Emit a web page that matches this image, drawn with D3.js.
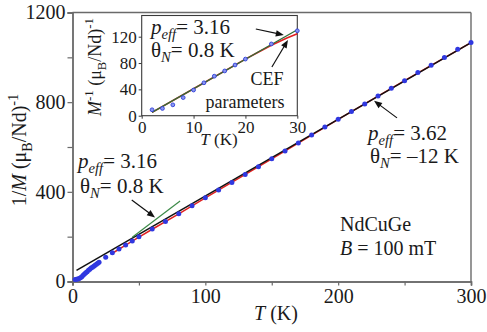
<!DOCTYPE html>
<html><head><meta charset="utf-8">
<script src="https://cdn.jsdelivr.net/npm/d3@7"></script>
<style>
html,body{margin:0;padding:0;background:#fff;}
svg text{font-family:"Liberation Serif","Times New Roman",serif;fill:#1a1a1a;}
</style></head>
<body><svg id="c" width="487" height="332"></svg>
<script>
// ---------- data ----------
const mainT = [2,3,4,5,6,7,8,9,10,11,12,13,14,15,16,17,18,19,20,25,30,35,40,45,50,60,70,80,90,100,110,120,130,140,150,160,170,180,190,200,210,220,230,240,250,260,270,280,290,300];
const mainV = [9,10,11,13,16.5,21,27.5,33,39,44,50,55,60,64,68,72,77,81,86,108,128,145,163,181,200,234,268,302,338,374,408,442,477,512,548,582,618,654,689,724,758,792,828,862,896,932,965,999,1036,1066];
const cefT = [30,40,50,60,80,100,150,200,250,300];
const cefV = [126,162,198,233,302,373,547,723,896,1066];
const fitHighT = [3,300];
const fitHighV = [50,1066];
const fitLowMainT = [45,81];
const fitLowMainV = [197,359];
const insetT = [2,4,6,8,10,12,14,16,18,20,25,30];
const insetV = [9,11,16.5,27.5,39,50,60,68,77,86,109,129];
const insetFitT = [2,30];
const insetFitV = [5,130.5];
const insetCefT = [2,10,20,22,25,28,30];
const insetCefV = [5,41,86,94.5,107,118,124.5];
const xTicksMain = [0,100,200,300];
const xMinorMain = [50,150,250];
const yTicksMain = [0,400,800,1200];
const yMinorMain = [200,600,1000];
const xTicksInset = [0,10,20,30];
const yTicksInset = [0,40,80,120];

// ---------- helpers ----------
const svg = d3.select("#c");
function rich(sel, parts, size, subShift){
  const ss = subShift === undefined ? 0.3 : subShift;
  let shift = 0;
  parts.forEach(p=>{
    const ts = sel.append("tspan").text(p.t);
    let target = 0, fs = size;
    if(p.sub){ target = size*ss; fs = size*0.7; }
    if(p.sup){ target = -size*0.42; fs = size*0.72; }
    ts.attr("font-size", fs);
    if(p.i) ts.attr("font-style","italic");
    if(target !== shift){ ts.attr("dy", target - shift); shift = target; }
  });
}
function arrow(g, x1,y1,x2,y2){
  const ang = Math.atan2(y2-y1,x2-x1), L=8, w=3.2;
  g.append("line").attr("x1",x1).attr("y1",y1)
    .attr("x2",x2-Math.cos(ang)*L*0.8).attr("y2",y2-Math.sin(ang)*L*0.8)
    .attr("stroke","#111").attr("stroke-width",1.2);
  const bx=x2-Math.cos(ang)*L, by=y2-Math.sin(ang)*L;
  const px=-Math.sin(ang)*w, py=Math.cos(ang)*w;
  g.append("path").attr("d",`M${x2},${y2}L${bx+px},${by+py}L${bx-px},${by-py}Z`).attr("fill","#111");
}

// ---------- main plot ----------
const x = d3.scaleLinear([0,300],[72.5,471]);
const y = d3.scaleLinear([0,1200],[281.5,12.5]);
const line = d3.line().x(d=>x(d[0])).y(d=>y(d[1]));

const gx = svg.append("g").attr("transform",`translate(0,${y(0)})`)
  .call(d3.axisBottom(x).tickValues(xTicksMain).tickSize(4).tickPadding(3).tickFormat(d3.format("d")));
gx.append("g").call(d3.axisBottom(x).tickValues(xMinorMain).tickSize(4).tickFormat(""));
const gy = svg.append("g").attr("transform",`translate(${x(0)},0)`)
  .call(d3.axisLeft(y).tickValues(yTicksMain).tickSize(5).tickPadding(2).tickFormat(d3.format("d")));
gy.append("g").call(d3.axisLeft(y).tickValues(yMinorMain).tickSize(5).tickFormat(""));
[gx,gy].forEach(g=>{
  g.selectAll("path.domain").attr("stroke","#6a6a6a").attr("stroke-width",1.4);
  g.selectAll("line").attr("stroke","#6a6a6a").attr("stroke-width",1.2);
  g.selectAll("text").attr("font-size",20).attr("font-family","Liberation Serif").attr("fill","#1a1a1a");
});
// top/right frame
svg.append("line").attr("x1",x(0)).attr("x2",x(300)).attr("y1",y(1200)).attr("y2",y(1200)).attr("stroke","#6a6a6a").attr("stroke-width",1.4);
svg.append("line").attr("x1",x(300)).attr("x2",x(300)).attr("y1",y(1200)).attr("y2",y(0)).attr("stroke","#6a6a6a").attr("stroke-width",1.4);

// lines
svg.append("path").datum(d3.zip(cefT,cefV)).attr("d",line).attr("fill","none").attr("stroke","#e02020").attr("stroke-width",1.5);
svg.append("path").datum(d3.zip(fitHighT,fitHighV)).attr("d",line).attr("fill","none").attr("stroke","#111").attr("stroke-width",1.5);
svg.append("path").datum(d3.zip(fitLowMainT,fitLowMainV)).attr("d",line).attr("fill","none").attr("stroke","#3c8a48").attr("stroke-width",1.2);
// dots
svg.append("g").selectAll("circle").data(d3.zip(mainT,mainV)).join("circle")
  .attr("cx",d=>x(d[0])).attr("cy",d=>y(d[1])).attr("r",2.5).attr("fill","#3038e0");

// axis labels
const xl = svg.append("text").attr("x",276).attr("y",320).attr("text-anchor","middle");
rich(xl,[{t:"T",i:true},{t:" (K)"}],20);
const yl = svg.append("text").attr("transform","translate(26,150) rotate(-90)").attr("text-anchor","middle");
rich(yl,[{t:"1/"},{t:"M",i:true},{t:" (μ"},{t:"B",sub:true},{t:"/Nd)"},{t:"-1",sup:true}],20);

// annotations main
const AF = 21, SS = 0.22;
const a1 = svg.append("text").attr("x",78).attr("y",168);
rich(a1,[{t:"p",i:true},{t:"eff",i:true,sub:true},{t:"= 3.16"}],AF,SS);
const a2 = svg.append("text").attr("x",80).attr("y",193);
rich(a2,[{t:"θ"},{t:"N",i:true,sub:true},{t:"= 0.8 K"}],AF,SS);
const a3 = svg.append("text").attr("x",368).attr("y",140);
rich(a3,[{t:"p",i:true},{t:"eff",i:true,sub:true},{t:"= 3.62"}],AF,SS);
const a4 = svg.append("text").attr("x",370).attr("y",163);
rich(a4,[{t:"θ"},{t:"N",i:true,sub:true},{t:"= –12 K"}],AF,SS);
svg.append("text").attr("x",340).attr("y",231).attr("font-size",20).text("NdCuGe");
const a5 = svg.append("text").attr("x",340).attr("y",255);
rich(a5,[{t:"B",i:true},{t:" = 100 mT"}],20);
const ga = svg.append("g");
arrow(ga, x(44.6), y(364), x(62.1), y(286));
arrow(ga, x(244.3), y(730), x(227), y(806));

// ---------- inset ----------
const xi = d3.scaleLinear([0,30],[141.7,297.3]);
const yi = d3.scaleLinear([0,120],[115.7,36.7]);
const yTop = 15.5;
const li = d3.line().x(d=>xi(d[0])).y(d=>yi(d[1]));
svg.append("rect").attr("x",xi(0)).attr("y",yTop).attr("width",xi(30)-xi(0)).attr("height",yi(0)-yTop)
  .attr("fill","#fff").attr("stroke","#3a3a3a").attr("stroke-width",1.1);
const gxi = svg.append("g").attr("transform",`translate(0,${yi(0)})`)
  .call(d3.axisBottom(xi).tickValues(xTicksInset).tickSize(3).tickPadding(2).tickFormat(d3.format("d")));
const gyi = svg.append("g").attr("transform",`translate(${xi(0)},0)`)
  .call(d3.axisLeft(yi).tickValues(yTicksInset).tickSize(3).tickPadding(2).tickFormat(d3.format("d")));
[gxi,gyi].forEach(g=>{
  g.selectAll("path.domain").remove();
  g.selectAll("line").attr("stroke","#3a3a3a");
  g.selectAll("text").attr("font-size",17).attr("font-family","Liberation Serif").attr("fill","#1a1a1a");
});
svg.append("path").datum(d3.zip(insetCefT,insetCefV)).attr("d",li).attr("fill","none").attr("stroke","#e02020").attr("stroke-width",1.6);
svg.append("path").datum(d3.zip(insetFitT,insetFitV)).attr("d",li).attr("fill","none").attr("stroke","#2f6e38").attr("stroke-width",1.3);
svg.append("g").selectAll("circle").data(d3.zip(insetT,insetV)).join("circle")
  .attr("cx",d=>xi(d[0])).attr("cy",d=>yi(d[1])).attr("r",1.9)
  .attr("fill","#8a96f0").attr("stroke","#3040d8").attr("stroke-width",0.9);

const ixl = svg.append("text").attr("x",219).attr("y",145).attr("text-anchor","middle");
rich(ixl,[{t:"T",i:true},{t:" (K)"}],17);
const iyl = svg.append("text").attr("transform","translate(101,67) rotate(-90)").attr("text-anchor","middle");
rich(iyl,[{t:"M",i:true},{t:"-1",sup:true},{t:" (μ"},{t:"B",sub:true},{t:"/Nd)"},{t:"-1",sup:true}],18);

const b1 = svg.append("text").attr("x",151).attr("y",34);
rich(b1,[{t:"p",i:true},{t:"eff",i:true,sub:true},{t:"= 3.16"}],AF,SS);
const b2 = svg.append("text").attr("x",151).attr("y",57);
rich(b2,[{t:"θ"},{t:"N",i:true,sub:true},{t:"= 0.8 K"}],AF,SS);
svg.append("text").attr("x",267).attr("y",85).attr("text-anchor","middle").attr("font-size",18).text("CEF");
svg.append("text").attr("x",245).attr("y",108).attr("text-anchor","middle").attr("font-size",18).text("parameters");
const gb = svg.append("g");
arrow(gb, xi(22.0), yi(131.7), xi(27.4), yi(122.6));
arrow(gb, xi(25.1), yi(74), xi(28.2), yi(115));
</script></body></html>
